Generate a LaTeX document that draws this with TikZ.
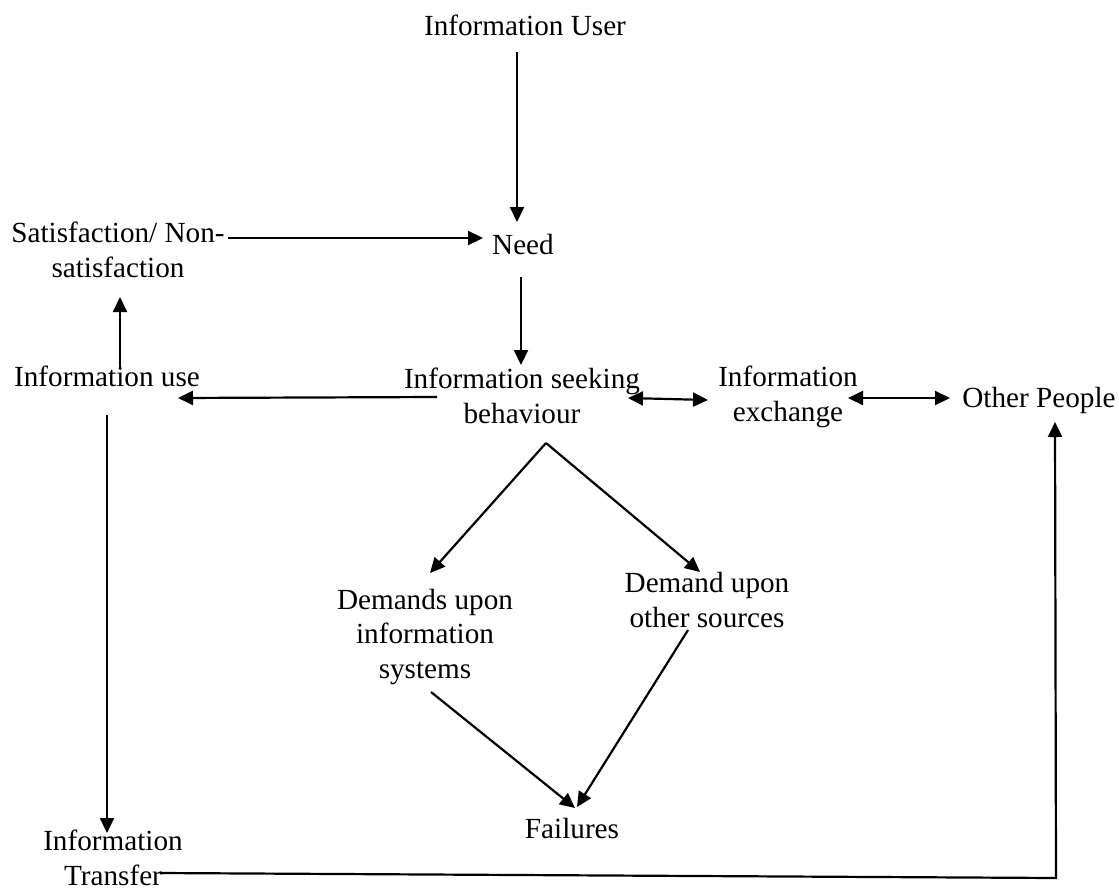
\documentclass[tikz,border=0pt]{standalone}
\usepackage{fontspec}
\setmainfont{Liberation Serif}
\usetikzlibrary{arrows.meta,calc}
\begin{document}
\begin{tikzpicture}[x=0.5pt,y=-0.5pt,
  lbl/.style={inner sep=0pt,align=center,font=\fontsize{14.6}{17.3}\selectfont},
  arr/.style={line width=1.1pt,-{Triangle[length=7.5pt,width=7pt]}},
  darr/.style={line width=1.1pt,{Triangle[length=7.5pt,width=7pt]}-{Triangle[length=7.5pt,width=7pt]}}]
\useasboundingbox (0,0) rectangle (1119,889);
\node[lbl] (user) at (525,25) {Information User};
\node[lbl] (need) at (523,245) {Need};
\node[lbl] (sat) at (118,250) {Satisfaction/ Non-\\satisfaction};
\node[lbl] (use) at (107,376) {Information use};
\node[lbl] (seek) at (522,396) {Information seeking\\behaviour};
\node[lbl] (exch) at (788,397) {Information\\exchange};
\node[lbl] (other) at (1039,400) {Other People};
\node[lbl] (dsys) at (425,637) {Demands upon\\information\\systems};
\node[lbl] (dother) at (707,600) {Demand upon\\other sources};
\node[lbl] (fail) at (572,828) {Failures};
\node[lbl] (transfer) at (113,858) {Information\\Transfer};

\draw[arr] ($(user)+(-8,27)$) -- ($(need)+(-6,-23)$);
\draw[arr] ($(sat)+(110,-12)$) -- ($(need)+(-40,-7)$);
\draw[arr] ($(need)+(-2,32)$) -- ($(seek)+(-1,-31)$);
\draw[arr] ($(use)+(13,-8)$) -- ($(sat)+(2,47)$);
\draw[arr] ($(seek)+(-85,1)$) -- ($(use)+(71,22)$);
\draw[darr] ($(seek)+(106,2)$) -- ($(exch)+(-80,3)$);
\draw[darr] ($(exch)+(60,1)$) -- ($(other)+(-89,-2)$);
\draw[arr] ($(seek)+(24,47)$) -- ($(dsys)+(5,-64)$);
\draw[arr] ($(seek)+(24,47)$) -- ($(dother)+(-7,-28)$);
\draw[arr] ($(dsys)+(6,55)$) -- ($(fail)+(3,-20)$);
\draw[arr] ($(dother)+(-19,30)$) -- ($(fail)+(5,-21)$);
\draw[arr] ($(use)+(0,39)$) -- ($(transfer)+(-6,-25)$);
\draw[arr] ($(transfer)+(47,15)$) -- ($(other)+(17,478)$) -- ($(other)+(16,22)$);
\end{tikzpicture}
\end{document}
